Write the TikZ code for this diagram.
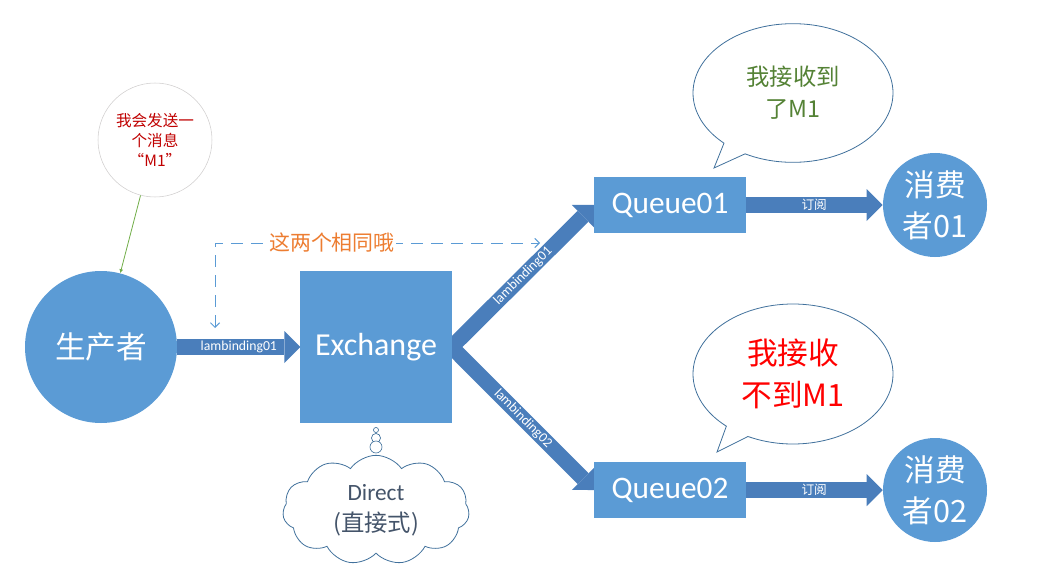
\documentclass[tikz,border=0pt]{standalone}
\usepackage{fontspec}
\setmainfont{Carlito}
\newfontfamily\cjk{Noto Sans CJK SC}
\usetikzlibrary{arrows.meta,shapes.symbols,shapes.callouts,backgrounds}
\definecolor{boxblue}{HTML}{5B9BD5}
\definecolor{arrowblue}{HTML}{4A7EBB}
\definecolor{msgred}{HTML}{C00000}
\definecolor{notered}{HTML}{FF0000}
\definecolor{noteorange}{HTML}{ED7D31}
\definecolor{okgreen}{HTML}{548235}
\definecolor{linegreen}{HTML}{70AD47}
\definecolor{msggray}{HTML}{D0CECE}
\definecolor{outline}{HTML}{41719C}
\definecolor{cloudtext}{HTML}{44546A}

\begin{document}
\begin{tikzpicture}[x=0.75pt, y=-0.75pt,
			blob/.style={
				circle,
				fill=boxblue,
				text=white,
				inner sep=0pt,
				align=center},
			box/.style={
				rectangle,
				fill=boxblue,
				draw=boxblue,
				text=white,
				inner sep=0pt},
			block/.style={
				draw=arrowblue,
				line width=11.5pt,
				-{Triangle[length=12pt, width=24pt, line width=0pt]}},
			tag/.style={
				text=white,
				inner sep=0pt,
				font=\fontsize{10.3}{11}\selectfont},
			bubble/.style={
				ellipse callout,
				draw=outline,
				fill=white,
				line width=0.6pt,
				inner sep=0pt,
				align=center}]
			\useasboundingbox (0,0) rectangle (1045,588);
			\node (prod) at (101,347) [blob, minimum size=114pt, font=\cjk\fontsize{23}{28}\selectfont] {生产者};
			\node (msg) at (155,140) [circle, draw=msggray, fill=white, minimum size=85.5pt, inner sep=0pt, align=center, text=msgred, font=\cjk\fontsize{11.7}{15}\selectfont] {我会发送一\\个消息\\“M1”};
			\node (ex) at (376,347) [box, minimum size=113pt, font=\fontsize{24}{28}\selectfont] {Exchange};
			\node (q1) at (670,205) [box, minimum width=113pt, minimum height=41pt, font=\fontsize{23.5}{28}\selectfont] {Queue01};
			\node (q2) at (670,490) [box, minimum width=113pt, minimum height=41pt, font=\fontsize{23.5}{28}\selectfont] {Queue02};
			\node (c1) at (935,205) [blob, minimum size=78pt, font=\cjk\fontsize{23}{31}\selectfont] {消费\\者01};
			\node (c2) at (935,490) [blob, minimum size=78pt, font=\cjk\fontsize{23}{31}\selectfont] {消费\\者02};
			\begin{scope}[on background layer]
				\draw[block] (prod) -- (ex) node[tag, midway] {lambinding01};
				\draw[block] (ex.east) -- (q1.west) node[tag, midway, sloped] {lambinding01};
				\draw[block] (ex.east) -- (q2.west) node[tag, midway, sloped] {lambinding02};
				\draw[block] (q1) -- (c1) node[tag, midway, font=\cjk\fontsize{9.5}{10}\selectfont] {订阅};
				\draw[block] (q2) -- (c2) node[tag, midway, font=\cjk\fontsize{9.5}{10}\selectfont] {订阅};
			\end{scope}
			\draw[linegreen, line width=0.6pt, -{Latex[length=3pt, width=3pt]}] (msg) -- (prod);
			% dashed hint between the two bindings
			\coordinate (same1) at (215,328);
			\coordinate (same2) at (540,243);
			\draw[boxblue, line width=0.7pt, dash pattern=on 9pt off 6pt,
				{Straight Barb[length=3.5pt, width=7pt]}-{Straight Barb[length=3.5pt, width=7pt]}]
				(same1) |- (same2)
				node[pos=0.68, fill=white, inner sep=1pt, text=noteorange, font=\cjk\fontsize{15.7}{18}\selectfont] {这两个相同哦};
			\foreach \y/\r in {430/1.9pt, 438/3.4pt, 447/4.5pt}
				\draw[outline, line width=0.5pt, fill=white] (376,\y) circle [radius=\r];
			\node (dir) at (376,510) [cloud, cloud puffs=11, cloud puff arc=110, aspect=1.9, draw=outline, fill=white, line width=0.6pt, minimum width=140pt, minimum height=82pt, inner sep=0pt, align=center, text=cloudtext, font=\fontsize{17.5}{23}\selectfont] {Direct\\{\cjk (直接式)}};
			\node (say1) at (793,93) [bubble, minimum width=150pt, minimum height=104pt, callout absolute pointer={(714,168)}, text=okgreen, font=\cjk\fontsize{17.5}{24}\selectfont] {我接收到\\了M1};
			\node (say2) at (793,374) [bubble, minimum width=150pt, minimum height=105pt, callout absolute pointer={(717,452)}, text=notered, font=\cjk\fontsize{23}{31.5}\selectfont] {我接收\\不到M1};
\end{tikzpicture}
\end{document}
